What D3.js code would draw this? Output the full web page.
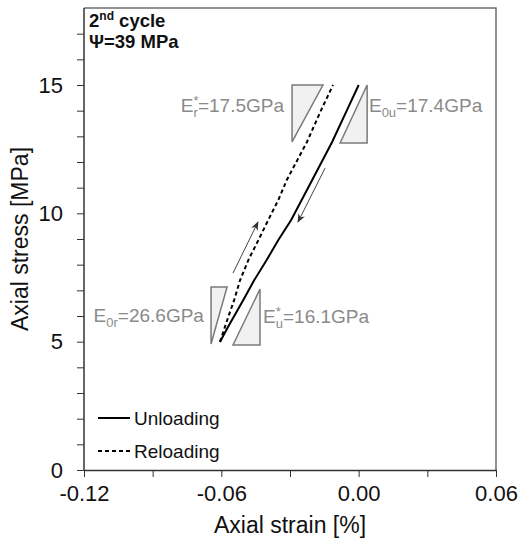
<!DOCTYPE html>
<html>
<head>
<meta charset="utf-8">
<script src="https://cdn.jsdelivr.net/npm/d3@7"></script>
<style>
    body { margin: 0; background: #fff; }
    svg { display: block; font-family: Arial, "Liberation Sans", sans-serif; }
</style>
</head>
<body>
<div id="chart"></div>
<script>
// unloading branch (solid), strain [%] / stress [MPa]
const unloadStrain = [0.0000, -0.0047, -0.0116, -0.0203, -0.0249, -0.0295, -0.0351, -0.0402, -0.0456, -0.0504, -0.0571, -0.0606];
const unloadStress = [15.00, 14.10, 12.78, 11.30, 10.52, 9.74, 8.96, 8.18, 7.40, 6.62, 5.57, 4.99];

// reloading branch (dashed)
const reloadStrain = [-0.0606, -0.0571, -0.0544, -0.0518, -0.0482, -0.0438, -0.0395, -0.0351, -0.0314, -0.0226, -0.0160, -0.0112];
const reloadStress = [4.99, 5.93, 6.62, 7.40, 8.18, 8.96, 9.74, 10.52, 11.30, 12.78, 14.10, 15.00];

// axis ticks
const xTicks = [-0.12, -0.09, -0.06, -0.03, 0.00, 0.03, 0.06];
const xTickLabels = ["-0.12", "", "-0.06", "", "0.00", "", "0.06"];
const yTicks = d3.range(0, 18, 1);
const yTickLabels = yTicks.map(d => d % 5 === 0 ? String(d) : "");

// slope triangles (data units) and their labels
const triNames = ["E*r", "E0u", "E0r", "E*u"];
const triPoints = [
    [[-0.0291, 15.00], [-0.0156, 15.00], [-0.0291, 12.78]],
    [[0.0037, 15.00], [-0.0081, 12.74], [0.0037, 12.74]],
    [[-0.0645, 7.13], [-0.0575, 7.13], [-0.0645, 4.91]],
    [[-0.0431, 7.05], [-0.0549, 4.87], [-0.0431, 4.87]]
];
const triSup = ["*", "", "", "*"];
const triSub = ["r", "0u", "0r", "u"];
const triValues = ["=17.5GPa", "=17.4GPa", "=26.6GPa", "=16.1GPa"];
const triLabelPos = [[-0.0326, 13.95], [0.0045, 13.95], [-0.0676, 5.77], [-0.0418, 5.73]];
const triLabelAnchor = ["end", "start", "end", "start"];

// direction arrows [tail, head]
const arrows = [
    [[-0.0549, 7.67], [-0.0440, 9.66]],
    [[-0.0147, 11.76], [-0.0265, 9.66]]
];

const W = 520, H = 542;
const margin = { top: 8, right: 24, bottom: 72, left: 84 };

const svg = d3.select("#chart").append("svg")
    .attr("width", W)
    .attr("height", H);

const x = d3.scaleLinear().domain([-0.12, 0.06]).range([margin.left, W - margin.right]);
const y = d3.scaleLinear().domain([0, 18]).range([H - margin.bottom, margin.top]);

// frame (top + right)
svg.append("path")
    .attr("d", `M${x(-0.12)},${y(18)}H${x(0.06)}V${y(0)}`)
    .attr("fill", "none")
    .attr("stroke", "#6e6e6e")
    .attr("stroke-width", 1.5);

// axes
const xAxis = d3.axisBottom(x)
    .tickValues(xTicks)
    .tickSize(7)
    .tickSizeOuter(0)
    .tickPadding(8)
    .tickFormat((d, i) => xTickLabels[i]);

const yAxis = d3.axisLeft(y)
    .tickValues(yTicks)
    .tickSize(7)
    .tickSizeOuter(0)
    .tickPadding(14)
    .tickFormat((d, i) => yTickLabels[i]);

const gx = svg.append("g")
    .attr("transform", `translate(0,${y(0)})`)
    .call(xAxis);

const gy = svg.append("g")
    .attr("transform", `translate(${x(-0.12)},0)`)
    .call(yAxis);

[gx, gy].forEach(g => {
    g.select(".domain").attr("stroke", "#333").attr("stroke-width", 1.5);
    g.selectAll(".tick line").attr("stroke", "#333");
    g.selectAll(".tick text")
        .attr("font-size", 22)
        .attr("font-family", "Arial, 'Liberation Sans', sans-serif")
        .attr("fill", "#111");
});
gy.select(".domain").attr("d", `M0,${y(18)}V${y(0)}`);

// axis titles
svg.append("text")
    .attr("x", (x(-0.12) + x(0.06)) / 2)
    .attr("y", 533)
    .attr("text-anchor", "middle")
    .attr("font-size", 23)
    .attr("fill", "#111")
    .text("Axial strain [%]");

svg.append("text")
    .attr("transform", `translate(28,${(y(0) + y(18)) / 2}) rotate(-90)`)
    .attr("text-anchor", "middle")
    .attr("font-size", 23)
    .attr("fill", "#111")
    .text("Axial stress [MPa]");

// slope triangles
triPoints.forEach((pts, i) => {
    svg.append("path")
        .attr("class", "tri-" + triNames[i])
        .attr("d", "M" + pts.map(p => x(p[0]) + "," + y(p[1])).join("L") + "Z")
        .attr("fill", "#f1f1f1")
        .attr("stroke", "#7a7a7a")
        .attr("stroke-width", 1.5);

    const t = svg.append("text")
        .attr("x", x(triLabelPos[i][0]))
        .attr("y", y(triLabelPos[i][1]))
        .attr("text-anchor", triLabelAnchor[i])
        .attr("font-size", 19)
        .attr("fill", "#8a8a8a");
    t.append("tspan").text("E");
    if (triSup[i]) {
        t.append("tspan").attr("font-size", 13).attr("dy", -7).text(triSup[i]);
        t.append("tspan").attr("font-size", 13).attr("dx", -5).attr("dy", 12).text(triSub[i]);
        t.append("tspan").attr("dy", -5).text(triValues[i]);
    } else {
        t.append("tspan").attr("font-size", 13).attr("dy", 5).text(triSub[i]);
        t.append("tspan").attr("dy", -5).text(triValues[i]);
    }
});

// curves
const line = d3.line()
    .x(d => x(d[0]))
    .y(d => y(d[1]));

svg.append("path")
    .datum(unloadStrain.map((s, i) => [s, unloadStress[i]]))
    .attr("fill", "none")
    .attr("stroke", "#000")
    .attr("stroke-width", 2)
    .attr("d", line);

svg.append("path")
    .datum(reloadStrain.map((s, i) => [s, reloadStress[i]]))
    .attr("fill", "none")
    .attr("stroke", "#000")
    .attr("stroke-width", 2)
    .attr("stroke-dasharray", "4,3")
    .attr("d", line);

// arrows
svg.append("defs").append("marker")
    .attr("id", "arrowhead")
    .attr("viewBox", "0 0 10 10")
    .attr("refX", 9)
    .attr("refY", 5)
    .attr("markerWidth", 9)
    .attr("markerHeight", 9)
    .attr("orient", "auto")
    .append("path")
    .attr("d", "M0,1L10,5L0,9L3,5Z")
    .attr("fill", "#333");

arrows.forEach(a => {
    svg.append("line")
        .attr("x1", x(a[0][0])).attr("y1", y(a[0][1]))
        .attr("x2", x(a[1][0])).attr("y2", y(a[1][1]))
        .attr("stroke", "#444")
        .attr("stroke-width", 1)
        .attr("marker-end", "url(#arrowhead)");
});

// title
const title = svg.append("text")
    .attr("x", 89)
    .attr("y", 27)
    .attr("font-size", 18.5)
    .attr("font-weight", "bold")
    .attr("fill", "#111");
title.append("tspan").text("2");
title.append("tspan").attr("font-size", 12).attr("dy", -7).text("nd");
title.append("tspan").attr("dy", 7).text(" cycle");

svg.append("text")
    .attr("x", 89)
    .attr("y", 48)
    .attr("font-size", 18.5)
    .attr("font-weight", "bold")
    .attr("fill", "#111")
    .text("\u03A8=39 MPa");

// legend
const legendItems = ["Unloading", "Reloading"];
const legendDash = [null, "4,3"];
legendItems.forEach((name, i) => {
    const ly = 418 + i * 33;
    svg.append("line")
        .attr("x1", 98).attr("x2", 130)
        .attr("y1", ly).attr("y2", ly)
        .attr("stroke", "#000")
        .attr("stroke-width", 2)
        .attr("stroke-dasharray", legendDash[i]);
    svg.append("text")
        .attr("x", 134)
        .attr("y", ly + 7)
        .attr("font-size", 19)
        .attr("fill", "#111")
        .text(name);
});
</script>
</body>
</html>
